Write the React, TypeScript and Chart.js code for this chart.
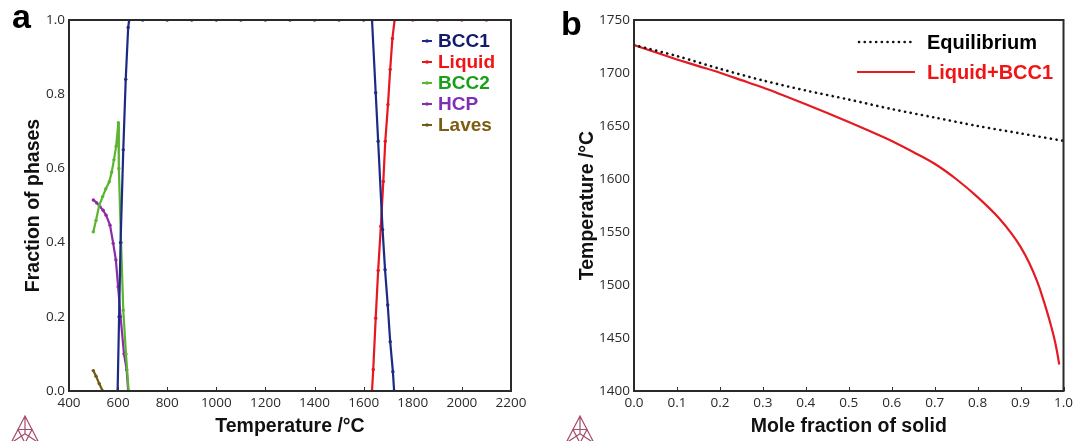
import React, { useEffect, useRef } from "react";
import { Chart, registerables } from "chart.js";
Chart.register(...registerables);

// ---------- Panel a data ----------
const tempTickLabels = ["400", "600", "800", "1000", "1200", "1400", "1600", "1800", "2000", "2200"];
const fracTickLabels = ["0.0", "0.2", "0.4", "0.6", "0.8", "1.0"];

const bcc1Temp = [598, 604, 610, 621, 631, 641, 645, 700, 800, 900, 1000, 1100, 1200, 1300, 1400, 1500, 1600, 1634, 1649, 1659, 1677, 1687, 1698, 1708, 1719, 1724];
const bcc1Frac = [0, 0.2, 0.4, 0.65, 0.84, 0.98, 1, 1, 1, 1, 1, 1, 1, 1, 1, 1, 1, 1, 0.804, 0.673, 0.435, 0.327, 0.232, 0.133, 0.052, 0];

const liquidTemp = [1634, 1639, 1649, 1659, 1670, 1680, 1688, 1699, 1708, 1717, 1726, 1800, 1900, 2000, 2100, 2200];
const liquidFrac = [0, 0.058, 0.196, 0.325, 0.444, 0.565, 0.673, 0.772, 0.867, 0.95, 1, 1, 1, 1, 1, 1];

const bcc2Temp = [499, 510, 523, 537, 550, 564, 574, 583, 592, 601, 603, 612, 621, 632, 643];
const bcc2Frac = [0.429, 0.46, 0.5, 0.524, 0.545, 0.564, 0.59, 0.623, 0.66, 0.723, 0.6, 0.4, 0.218, 0.1, 0];

const hcpTemp = [499, 513, 526, 539, 551, 567, 580, 591, 600, 610, 624, 635, 641];
const hcpFrac = [0.515, 0.507, 0.497, 0.487, 0.474, 0.447, 0.398, 0.353, 0.281, 0.2, 0.1, 0.057, 0];

const lavesTemp = [499, 510, 523, 537];
const lavesFrac = [0.055, 0.04, 0.02, 0];

const phaseNames = ["BCC1", "Liquid", "BCC2", "HCP", "Laves"];
const phaseLineColors = ["#1c2a85", "#e8161e", "#5cb531", "#8a2ca8", "#6e5a12"];
const phaseTextColors = ["#111a6b", "#f21414", "#18a018", "#7d2fb5", "#7d5c12"];

// ---------- Panel b data ----------
const moleTickLabels = ["0.0", "0.1", "0.2", "0.3", "0.4", "0.5", "0.6", "0.7", "0.8", "0.9", "1.0"];
const tempBTickLabels = ["1400", "1450", "1500", "1550", "1600", "1650", "1700", "1750"];

const eqFrac = [0, 0.1, 0.2, 0.3, 0.4, 0.5, 0.6, 0.7, 0.8, 0.9, 1.0];
const eqTemp = [1726.4, 1716, 1704, 1693, 1683.5, 1675, 1666, 1658, 1650, 1643, 1636];

const scheilFrac = [0, 0.05, 0.1, 0.15, 0.2, 0.25, 0.3, 0.35, 0.4, 0.45, 0.5, 0.55, 0.6, 0.65, 0.7, 0.75, 0.8, 0.85, 0.88, 0.9, 0.92, 0.94, 0.95, 0.96, 0.97, 0.98, 0.985, 0.99];
const scheilTemp = [1726.4, 1719.5, 1712.8, 1706.5, 1700.2, 1693.3, 1686.3, 1678.5, 1670.5, 1662.3, 1653.8, 1645, 1635.9, 1625.5, 1614.4, 1600, 1582.9, 1563, 1548, 1536, 1521, 1502, 1490, 1477, 1463, 1447, 1437, 1425];

const legendBNames = ["Equilibrium", "Liquid+BCC1"];

const zip = (xs: number[], ys: number[]) => xs.map((x, i) => ({ x, y: ys[i] }));

const TICK_FONT = { family: "'Open Sans', sans-serif", size: 13.5 };
const TITLE_FONT = { family: "'Liberation Sans', Arial, sans-serif", size: 19.5, weight: "bold" as const };
const BOLD = "'Liberation Sans', Arial, sans-serif";

function drawLogo(ctx: CanvasRenderingContext2D, cx: number, top: number) {
  const h = 27, w = 14;
  const ax = cx, ay = top;
  const lx = cx - w, ly = top + h;
  const rx = cx + w, ry = top + h;
  const mx = cx, my = top + h * 0.66;
  ctx.save();
  ctx.strokeStyle = "#a44a6a";
  ctx.lineWidth = 1.2;
  ctx.beginPath();
  ctx.moveTo(ax, ay); ctx.lineTo(lx, ly); ctx.lineTo(rx, ry); ctx.closePath();
  ctx.moveTo(ax, ay); ctx.lineTo(mx, my);
  ctx.moveTo(lx, ly); ctx.lineTo(mx, my);
  ctx.moveTo(rx, ry); ctx.lineTo(mx, my);
  ctx.moveTo((ax + lx) / 2, (ay + ly) / 2); ctx.lineTo((ax + rx) / 2, (ay + ry) / 2);
  ctx.lineTo(cx, ly); ctx.closePath();
  ctx.stroke();
  ctx.restore();
}

const decorPlugin = {
  id: "decor",
  afterDraw(chart: any, _args: any, opts: any) {
    const ctx: CanvasRenderingContext2D = chart.ctx;
    const { left, right, top, bottom } = chart.chartArea;
    ctx.save();
    const xs = chart.scales.x;
    ctx.strokeStyle = "#333";
    ctx.lineWidth = 1;
    xs.ticks.forEach((t: any) => {
      const px = Math.round(xs.getPixelForValue(t.value)) + 0.5;
      ctx.beginPath();
      ctx.moveTo(px, bottom);
      ctx.lineTo(px, bottom - 4);
      ctx.stroke();
    });
    ctx.strokeStyle = "#2a2a2a";
    ctx.lineWidth = 2;
    ctx.strokeRect(left, top, right - left, bottom - top);
    ctx.fillStyle = "#000";
    ctx.font = `bold 34px ${BOLD}`;
    ctx.textBaseline = "alphabetic";
    ctx.textAlign = "left";
    ctx.fillText(opts.letter, opts.letterX, opts.letterY);
    if (opts.kind === "a") {
      chart.data.datasets.forEach((ds: any, i: number) => {
        const y = 41 + i * 21;
        ctx.strokeStyle = ds.borderColor;
        ctx.lineWidth = 2;
        ctx.beginPath();
        ctx.moveTo(422, y);
        ctx.lineTo(432, y);
        ctx.stroke();
        ctx.fillStyle = ds.borderColor;
        ctx.beginPath();
        ctx.arc(427, y, 1.8, 0, Math.PI * 2);
        ctx.fill();
        ctx.fillStyle = phaseTextColors[i];
        ctx.font = `bold 19px ${BOLD}`;
        ctx.textBaseline = "middle";
        ctx.fillText(ds.label, 438, y + 1);
      });
    } else {
      const ds0 = chart.data.datasets[0];
      const ds1 = chart.data.datasets[1];
      ctx.strokeStyle = ds0.borderColor;
      ctx.lineWidth = 2.6;
      ctx.lineCap = "round";
      ctx.setLineDash([0.1, 5.6]);
      ctx.beginPath();
      ctx.moveTo(331, 42);
      ctx.lineTo(386, 42);
      ctx.stroke();
      ctx.setLineDash([]);
      ctx.lineCap = "butt";
      ctx.strokeStyle = ds1.borderColor;
      ctx.lineWidth = 2;
      ctx.beginPath();
      ctx.moveTo(329, 72);
      ctx.lineTo(387, 72);
      ctx.stroke();
      ctx.font = `bold 20px ${BOLD}`;
      ctx.textBaseline = "middle";
      ctx.fillStyle = "#000";
      ctx.fillText(ds0.label, 399, 43);
      ctx.fillStyle = "#f21414";
      ctx.fillText(ds1.label, 399, 73);
    }
    drawLogo(ctx, opts.logoX, 416);
    ctx.restore();
  },
};

const GRID = { display: false, drawTicks: false, tickLength: 0 };

function makeChartA(canvas: HTMLCanvasElement) {
  const series = [
    zip(bcc1Temp, bcc1Frac),
    zip(liquidTemp, liquidFrac),
    zip(bcc2Temp, bcc2Frac),
    zip(hcpTemp, hcpFrac),
    zip(lavesTemp, lavesFrac),
  ];
  return new Chart(canvas, {
    type: "line",
    data: {
      datasets: series.map((d, i) => ({
        label: phaseNames[i],
        data: d,
        borderColor: phaseLineColors[i],
        backgroundColor: phaseLineColors[i],
        borderWidth: 2.2,
        pointRadius: 1.7,
        pointBorderWidth: 0,
        pointHoverRadius: 0,
        tension: 0,
        fill: false,
      })),
    },
    options: {
      responsive: false,
      maintainAspectRatio: false,
      animation: false,
      layout: { padding: { top: 20, right: 29, bottom: 0, left: 0 } },
      plugins: {
        legend: { display: false },
        tooltip: { enabled: false },
        decor: { kind: "a", letter: "a", letterX: 12, letterY: 28, logoX: 25 },
      } as any,
      scales: {
        x: {
          type: "linear",
          min: 400,
          max: 2200,
          afterFit: (s: any) => { s.height = 50; },
          grid: GRID,
          border: { display: false },
          ticks: {
            stepSize: 200,
            autoSkip: false,
            maxRotation: 0,
            padding: 4,
            color: "#2a2a2a",
            font: TICK_FONT,
            callback: (_v: any, i: number) => tempTickLabels[i],
          },
          title: { display: true, text: "Temperature /°C", color: "#111", font: TITLE_FONT, padding: { top: 0, bottom: 3 } },
        },
        y: {
          type: "linear",
          min: 0,
          max: 1,
          afterFit: (s: any) => { s.width = 69; },
          grid: GRID,
          border: { display: false },
          ticks: {
            stepSize: 0.2,
            autoSkip: false,
            padding: 4,
            color: "#2a2a2a",
            font: TICK_FONT,
            callback: (_v: any, i: number) => fracTickLabels[i],
          },
          title: { display: true, text: "Fraction of phases", color: "#111", font: TITLE_FONT, padding: { top: 22, bottom: 0 } },
        },
      },
    },
    plugins: [decorPlugin],
  } as any);
}

function makeChartB(canvas: HTMLCanvasElement) {
  return new Chart(canvas, {
    type: "line",
    data: {
      datasets: [
        {
          label: legendBNames[0],
          data: zip(eqFrac, eqTemp),
          borderColor: "#111",
          borderWidth: 2.6,
          borderDash: [0.1, 5.6],
          borderCapStyle: "round",
          pointRadius: 0,
          tension: 0.3,
          fill: false,
        },
        {
          label: legendBNames[1],
          data: zip(scheilFrac, scheilTemp),
          borderColor: "#e41b23",
          borderWidth: 2.2,
          pointRadius: 0,
          cubicInterpolationMode: "monotone",
          fill: false,
        },
      ],
    },
    options: {
      responsive: false,
      maintainAspectRatio: false,
      animation: false,
      layout: { padding: { top: 20, right: 11, bottom: 0, left: 0 } },
      plugins: {
        legend: { display: false },
        tooltip: { enabled: false },
        decor: { kind: "b", letter: "b", letterX: 33, letterY: 35, logoX: 52 },
      } as any,
      scales: {
        x: {
          type: "linear",
          min: 0,
          max: 1,
          afterFit: (s: any) => { s.height = 50; },
          grid: GRID,
          border: { display: false },
          ticks: {
            stepSize: 0.1,
            autoSkip: false,
            maxRotation: 0,
            padding: 4,
            color: "#2a2a2a",
            font: TICK_FONT,
            callback: (_v: any, i: number) => moleTickLabels[i],
          },
          title: { display: true, text: "Mole fraction of solid", color: "#111", font: TITLE_FONT, padding: { top: 0, bottom: 3 } },
        },
        y: {
          type: "linear",
          min: 1400,
          max: 1750,
          afterFit: (s: any) => { s.width = 106; },
          grid: GRID,
          border: { display: false },
          ticks: {
            stepSize: 50,
            autoSkip: false,
            padding: 4,
            color: "#2a2a2a",
            font: TICK_FONT,
            callback: (_v: any, i: number) => tempBTickLabels[i],
          },
          title: { display: true, text: "Temperature /°C", color: "#111", font: TITLE_FONT, padding: { top: 48, bottom: 0 } },
        },
      },
    },
    plugins: [decorPlugin],
  } as any);
}

export default function App() {
  const refA = useRef<HTMLCanvasElement>(null);
  const refB = useRef<HTMLCanvasElement>(null);
  useEffect(() => {
    const a = makeChartA(refA.current!);
    const b = makeChartB(refB.current!);
    return () => {
      a.destroy();
      b.destroy();
    };
  }, []);
  return (
    <div style={{ position: "absolute", left: 0, top: 0, width: 1077, height: 441, background: "#fff", overflow: "hidden" }}>
      <div style={{ position: "absolute", left: 0, top: 0, width: 528, height: 441, overflow: "hidden" }}>
        <canvas ref={refA} width={540} height={441} style={{ display: "block" }} />
      </div>
      <div style={{ position: "absolute", left: 528, top: 0, width: 549, height: 441 }}>
        <canvas ref={refB} width={549} height={441} style={{ display: "block" }} />
      </div>
    </div>
  );
}
